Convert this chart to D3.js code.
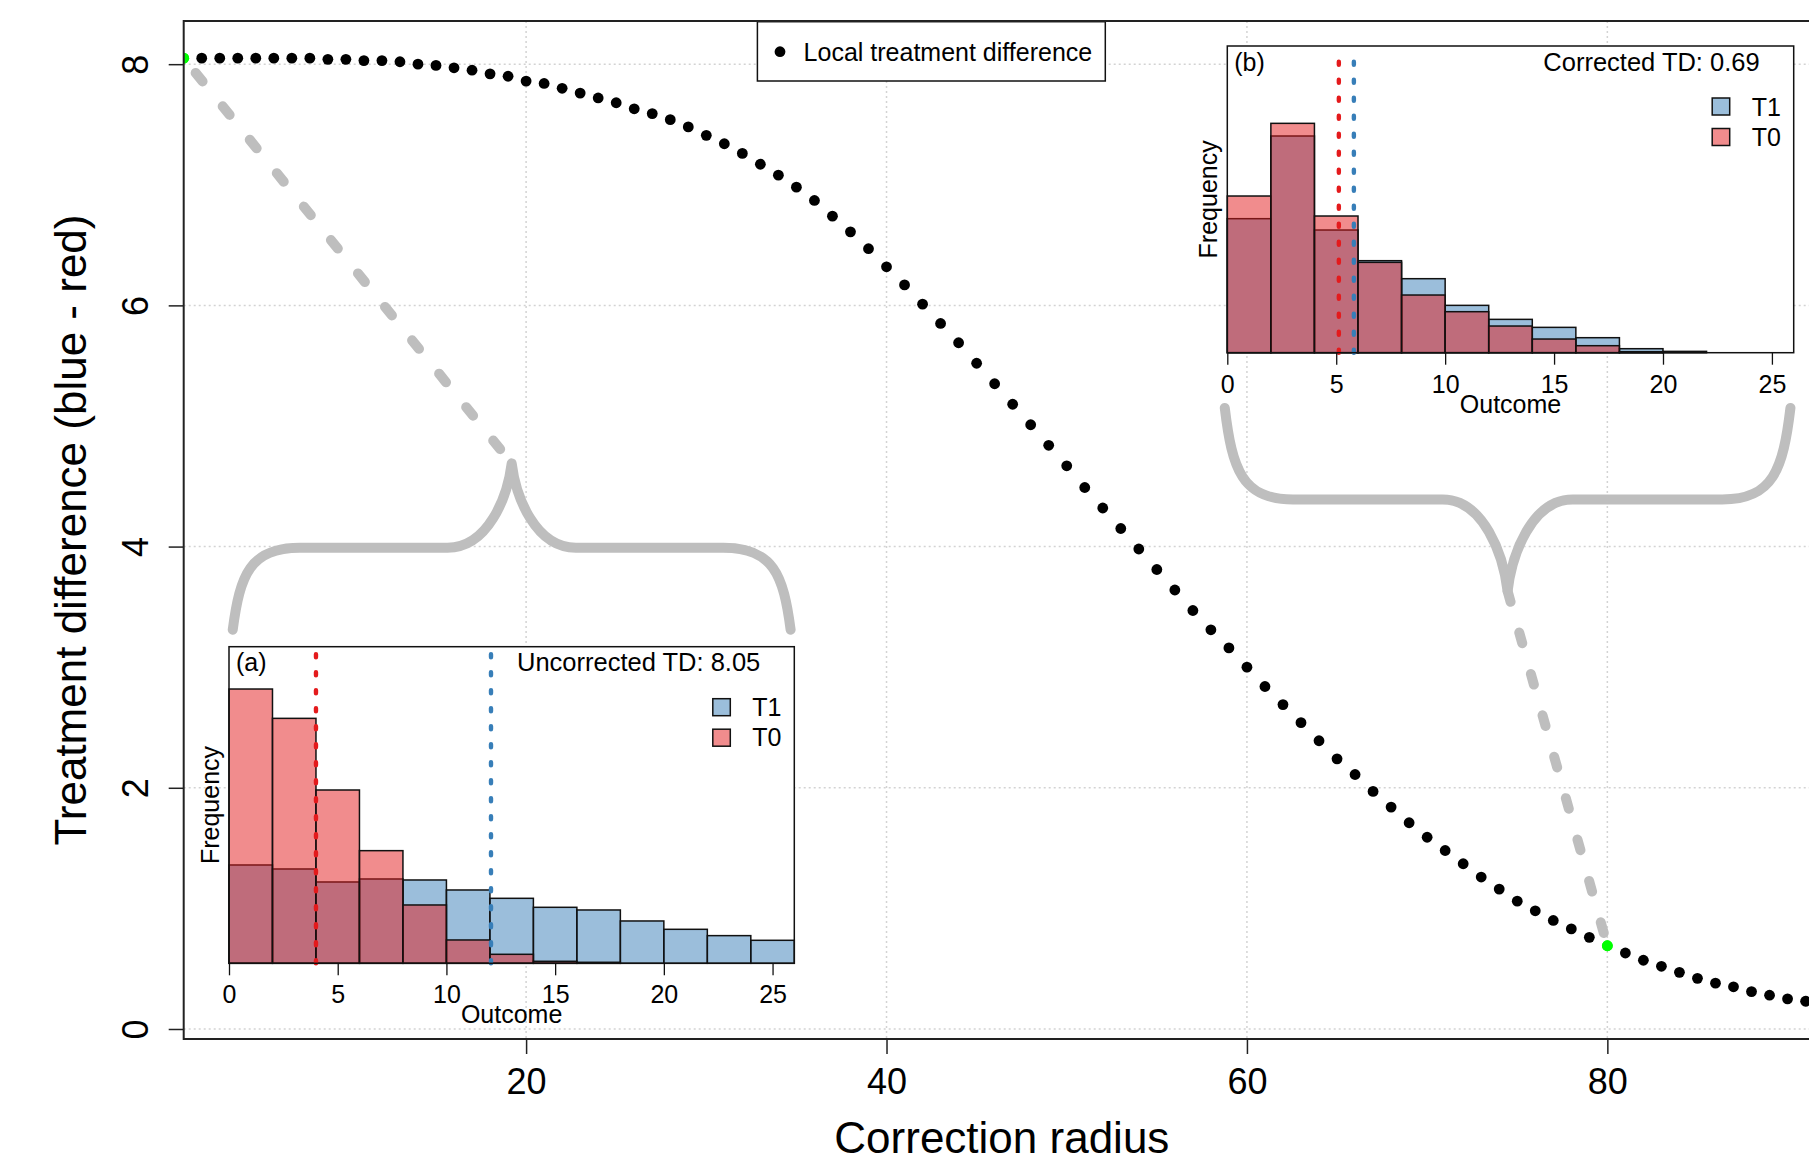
<!DOCTYPE html>
<html>
<head>
<meta charset="utf-8">
<script src="https://cdn.jsdelivr.net/npm/d3@7"></script>
<style>
body { margin: 0; background: #fff; }
svg { display: block; font-family: "Liberation Sans", Arial, Helvetica, sans-serif; }
</style>
</head>
<body>
<svg width="1809" height="1155"></svg>
<script>
// correction radius and local treatment difference (blue - red)
var radius = [1, 2, 3, 4, 5, 6, 7, 8, 9, 10, 11, 12, 13, 14, 15, 16, 17, 18, 19, 20,
  21, 22, 23, 24, 25, 26, 27, 28, 29, 30, 31, 32, 33, 34, 35, 36, 37, 38, 39, 40,
  41, 42, 43, 44, 45, 46, 47, 48, 49, 50, 51, 52, 53, 54, 55, 56, 57, 58, 59, 60,
  61, 62, 63, 64, 65, 66, 67, 68, 69, 70, 71, 72, 73, 74, 75, 76, 77, 78, 79, 80,
  81, 82, 83, 84, 85, 86, 87, 88, 89, 90, 91];
var localTD = [8.05, 8.05, 8.05, 8.05, 8.05, 8.05, 8.05, 8.05, 8.04, 8.04,
  8.03, 8.03, 8.02, 8.00, 7.99, 7.97, 7.95, 7.92, 7.90, 7.86,
  7.84, 7.80, 7.76, 7.72, 7.68, 7.63, 7.59, 7.54, 7.48, 7.41,
  7.34, 7.26, 7.17, 7.08, 6.98, 6.87, 6.74, 6.61, 6.47, 6.32,
  6.17, 6.01, 5.85, 5.69, 5.52, 5.35, 5.18, 5.01, 4.84, 4.67,
  4.49, 4.32, 4.15, 3.98, 3.81, 3.64, 3.47, 3.31, 3.16, 3.00,
  2.84, 2.69, 2.54, 2.39, 2.24, 2.11, 1.97, 1.84, 1.71, 1.59,
  1.48, 1.37, 1.26, 1.16, 1.06, 0.98, 0.90, 0.83, 0.76, 0.69,
  0.63, 0.57, 0.52, 0.47, 0.42, 0.38, 0.35, 0.31, 0.28, 0.25, 0.23];
var highlighted = [1, 80];

var xTicks = [20, 40, 60, 80];
var yTicks = [0, 2, 4, 6, 8];

// braces (in main plot units): ends, flat part, tip
var braceA = {x0: 3.72, x1: 34.68, yEnd: 3.31, yMid: 3.99, yTip: 4.69};
var braceB = {x0: 58.77, x1: 90.16, yEnd: 5.15, yMid: 4.39, yTip: 3.63};

// histogram bins (outcome) and frequencies
var binStart = [0, 2, 4, 6, 8, 10, 12, 14, 16, 18, 20, 22, 24];
var binWidth = 2;
var outcomeTicks = [0, 5, 10, 15, 20, 25];

var freqT1a = [29.5, 28.3, 24.4, 25.3, 25.0, 22.0, 19.5, 16.8, 16.0, 12.7, 10.2, 8.3, 6.9];
var freqT0a = [82.3, 73.5, 52.0, 33.8, 17.5, 7.0, 2.7, 0.6, 0.3, 0, 0, 0, 0];
var meanT1a = 12.05, meanT0a = 4.0;
var ylimA = 95;

var freqT1b = [40.2, 65.0, 36.8, 27.6, 22.2, 14.2, 10.0, 7.6, 4.5, 1.2, 0.4, 0, 0];
var freqT0b = [47.0, 68.8, 41.0, 27.1, 17.3, 12.3, 8.0, 4.1, 2.1, 0.3, 0, 0, 0];
var meanT1b = 5.81, meanT0b = 5.12;
var ylimB = 92;

var blueFill = "rgba(55,126,184,0.5)", redFill = "rgba(228,26,28,0.5)";
var grey = "#bebebe";

var svg = d3.select("svg");
var plot = {left: 183.7, right: 1820, top: 21, bottom: 1039};

var x = d3.scaleLinear().domain([1, 91.8]).range([plot.left, plot.right]);
var y = d3.scaleLinear().domain([-0.083, 8.358]).range([plot.bottom, plot.top]);

svg.append("clipPath").attr("id", "plotclip")
  .append("rect")
  .attr("x", plot.left).attr("y", plot.top)
  .attr("width", plot.right - plot.left).attr("height", plot.bottom - plot.top);

// grid
var grid = svg.append("g")
  .attr("stroke", "#d3d3d3")
  .attr("stroke-width", 1.5)
  .attr("stroke-dasharray", "2,3");
grid.selectAll(".gx").data(xTicks).enter().append("line")
  .attr("x1", d => x(d)).attr("x2", d => x(d))
  .attr("y1", plot.top).attr("y2", plot.bottom);
grid.selectAll(".gy").data(yTicks).enter().append("line")
  .attr("x1", plot.left).attr("x2", plot.right)
  .attr("y1", d => y(d)).attr("y2", d => y(d));

// axes
svg.append("g")
  .attr("transform", "translate(0," + plot.bottom + ")")
  .call(d3.axisBottom(x).tickValues(xTicks).tickSize(15).tickSizeOuter(0))
  .call(g => g.select(".domain").remove())
  .call(g => g.selectAll("line").attr("stroke", "#222").attr("stroke-width", 1.5))
  .call(g => g.selectAll("text")
    .attr("y", 55).attr("dy", 0)
    .attr("font-size", 36).attr("font-family", null).attr("fill", "#000"));

svg.append("g")
  .attr("transform", "translate(" + plot.left + ",0)")
  .call(d3.axisLeft(y).tickValues(yTicks).tickSize(15).tickSizeOuter(0))
  .call(g => g.select(".domain").remove())
  .call(g => g.selectAll("line").attr("stroke", "#222").attr("stroke-width", 1.5))
  .call(g => g.selectAll("text")
    .attr("x", 0).attr("dy", 0)
    .attr("text-anchor", "middle")
    .attr("transform", "translate(-35.5,0) rotate(-90)")
    .attr("font-size", 36).attr("font-family", null).attr("fill", "#000"));

svg.append("text")
  .attr("x", (plot.left + plot.right) / 2).attr("y", 1153)
  .attr("text-anchor", "middle")
  .attr("font-size", 44)
  .text("Correction radius");

svg.append("text")
  .attr("transform", "translate(86," + (plot.top + plot.bottom) / 2 + ") rotate(-90)")
  .attr("text-anchor", "middle")
  .attr("font-size", 44)
  .text("Treatment difference (blue - red)");

// points
var pts = svg.append("g").attr("clip-path", "url(#plotclip)");
pts.selectAll("circle").data(radius).enter().append("circle")
  .attr("cx", d => x(d))
  .attr("cy", (d, i) => y(localTD[i]))
  .attr("r", 5.4)
  .attr("fill", d => highlighted.indexOf(d) >= 0 ? "#00ff00" : "#000");

// braces
var halfA = [[0, 0], [0.026, 0.673], [0.062, 1], [0.241, 1], [0.77, 1], [0.915, 1], [0.985, 1.6], [1, 2]];

function bracePath(b) {
  var xl = x(b.x0), xr = x(b.x1), half = (xr - xl) / 2;
  var ye = y(b.yEnd), ym = y(b.yMid), yt = y(b.yTip);
  function py(f) { return f <= 1 ? ye + f * (ym - ye) : ym + (f - 1) * (yt - ym); }
  function L(p) { return [xl + p[0] * half, py(p[1])]; }
  function R(p) { return [xr - p[0] * half, py(p[1])]; }
  var h = halfA, p = d3.path(), a, c1, c2;
  a = L(h[0]); p.moveTo(a[0], a[1]);
  c1 = L(h[1]); c2 = L(h[2]); a = L(h[3]); p.bezierCurveTo(c1[0], c1[1], c2[0], c2[1], a[0], a[1]);
  a = L(h[4]); p.lineTo(a[0], a[1]);
  c1 = L(h[5]); c2 = L(h[6]); a = L(h[7]); p.bezierCurveTo(c1[0], c1[1], c2[0], c2[1], a[0], a[1]);
  c1 = R(h[6]); c2 = R(h[5]); a = R(h[4]); p.bezierCurveTo(c1[0], c1[1], c2[0], c2[1], a[0], a[1]);
  a = R(h[3]); p.lineTo(a[0], a[1]);
  c1 = R(h[2]); c2 = R(h[1]); a = R(h[0]); p.bezierCurveTo(c1[0], c1[1], c2[0], c2[1], a[0], a[1]);
  return p.toString();
}

var braces = svg.append("g")
  .attr("fill", "none").attr("stroke", grey)
  .attr("stroke-width", 10).attr("stroke-linecap", "round").attr("stroke-linejoin", "round");

[braceA, braceB].forEach(function(b) {
  braces.append("path").attr("d", bracePath(b));
});

// dashed connectors: point -> brace tip
braces.append("line")
  .attr("x1", x(highlighted[0])).attr("y1", y(localTD[0]))
  .attr("x2", x((braceA.x0 + braceA.x1) / 2)).attr("y2", y(braceA.yTip))
  .attr("stroke-dasharray", "11 32").attr("stroke-dashoffset", 24);
braces.append("line")
  .attr("x1", x((braceB.x0 + braceB.x1) / 2)).attr("y1", y(braceB.yTip))
  .attr("x2", x(highlighted[1])).attr("y2", y(localTD[79]))
  .attr("stroke-dasharray", "11 32");

// green points on top of the connectors
svg.append("g").attr("clip-path", "url(#plotclip)")
  .selectAll("circle").data(highlighted).enter().append("circle")
  .attr("cx", d => x(d))
  .attr("cy", d => y(localTD[radius.indexOf(d)]))
  .attr("r", 5.4)
  .attr("fill", "#00ff00");

// inset histograms
function drawInset(box, t1, t0, m1, m0, ylim, tag, tdLabel) {
  var g = svg.append("g").attr("font-size", 25);
  var right = box.left + box.width, base = box.top + box.height;
  var ix = d3.scaleLinear().domain([0, 26]).range([box.left, right]);
  var iy = d3.scaleLinear().domain([0, ylim]).range([base, box.top]);

  g.append("rect")
    .attr("x", box.left).attr("y", box.top)
    .attr("width", box.width).attr("height", box.height)
    .attr("fill", "#fff");

  [[t1, blueFill], [t0, redFill]].forEach(function(s) {
    g.append("g").selectAll("rect").data(s[0]).enter().append("rect")
      .attr("x", (d, i) => ix(binStart[i]))
      .attr("width", (d, i) => ix(binStart[i] + binWidth) - ix(binStart[i]))
      .attr("y", d => iy(d))
      .attr("height", d => iy(0) - iy(d))
      .attr("fill", s[1])
      .attr("stroke", "#111").attr("stroke-width", 1.5);
  });

  [[m0, "#e41a1c"], [m1, "#377eb8"]].forEach(function(m) {
    g.append("line")
      .attr("x1", ix(m[0])).attr("x2", ix(m[0]))
      .attr("y1", base).attr("y2", box.top + 3)
      .attr("stroke", m[1]).attr("stroke-width", 4.4)
      .attr("stroke-linecap", "round").attr("stroke-dasharray", "3 15");
  });

  g.append("rect")
    .attr("x", box.left).attr("y", box.top)
    .attr("width", box.width).attr("height", box.height)
    .attr("fill", "none").attr("stroke", "#111").attr("stroke-width", 1.5);

  g.append("g")
    .attr("transform", "translate(0," + base + ")")
    .call(d3.axisBottom(ix).tickValues(outcomeTicks).tickSize(12).tickSizeOuter(0))
    .call(a => a.select(".domain").remove())
    .call(a => a.selectAll("line").attr("stroke", "#111").attr("stroke-width", 1.3))
    .call(a => a.selectAll("text")
      .attr("y", 40).attr("dy", 0)
      .attr("font-size", 25).attr("font-family", null).attr("fill", "#000"));

  g.append("text")
    .attr("x", (box.left + right) / 2).attr("y", base + 60)
    .attr("text-anchor", "middle").text("Outcome");
  g.append("text")
    .attr("transform", "translate(" + (box.left - 10) + "," + (box.top + box.height / 2) + ") rotate(-90)")
    .attr("text-anchor", "middle").text("Frequency");
  g.append("text")
    .attr("x", box.left + 7).attr("y", box.top + 24.5).text(tag);
  g.append("text")
    .attr("x", right - 34).attr("y", box.top + 24.5)
    .attr("text-anchor", "end").attr("font-size", 25.5).text(tdLabel);

  var leg = g.append("g");
  [["T1", blueFill], ["T0", redFill]].forEach(function(k, i) {
    leg.append("rect")
      .attr("x", right - 81.5).attr("y", box.top + 52 + i * 30.5)
      .attr("width", 17.5).attr("height", 17)
      .attr("fill", k[1]).attr("stroke", "#111").attr("stroke-width", 1.5);
    leg.append("text")
      .attr("x", right - 42).attr("y", box.top + 69.5 + i * 30)
      .text(k[0]);
  });
}

drawInset({left: 229, top: 646.7, width: 565.3, height: 316.6},
  freqT1a, freqT0a, meanT1a, meanT0a, ylimA, "(a)", "Uncorrected TD: 8.05");
drawInset({left: 1227.3, top: 46, width: 566.4, height: 306.7},
  freqT1b, freqT0b, meanT1b, meanT0b, ylimB, "(b)", "Corrected TD: 0.69");

// legend
var lg = svg.append("g");
lg.append("rect")
  .attr("x", 757.4).attr("y", 21.7).attr("width", 347.9).attr("height", 59.3)
  .attr("fill", "#fff").attr("stroke", "#111").attr("stroke-width", 1.5);
lg.append("circle").attr("cx", 780).attr("cy", 51.7).attr("r", 5.4).attr("fill", "#000");
lg.append("text").attr("x", 803.6).attr("y", 61)
  .attr("font-size", 25).text("Local treatment difference");

// plot box
svg.append("rect")
  .attr("x", plot.left).attr("y", plot.top)
  .attr("width", plot.right - plot.left).attr("height", plot.bottom - plot.top)
  .attr("fill", "none").attr("stroke", "#222").attr("stroke-width", 2);
</script>
</body>
</html>
